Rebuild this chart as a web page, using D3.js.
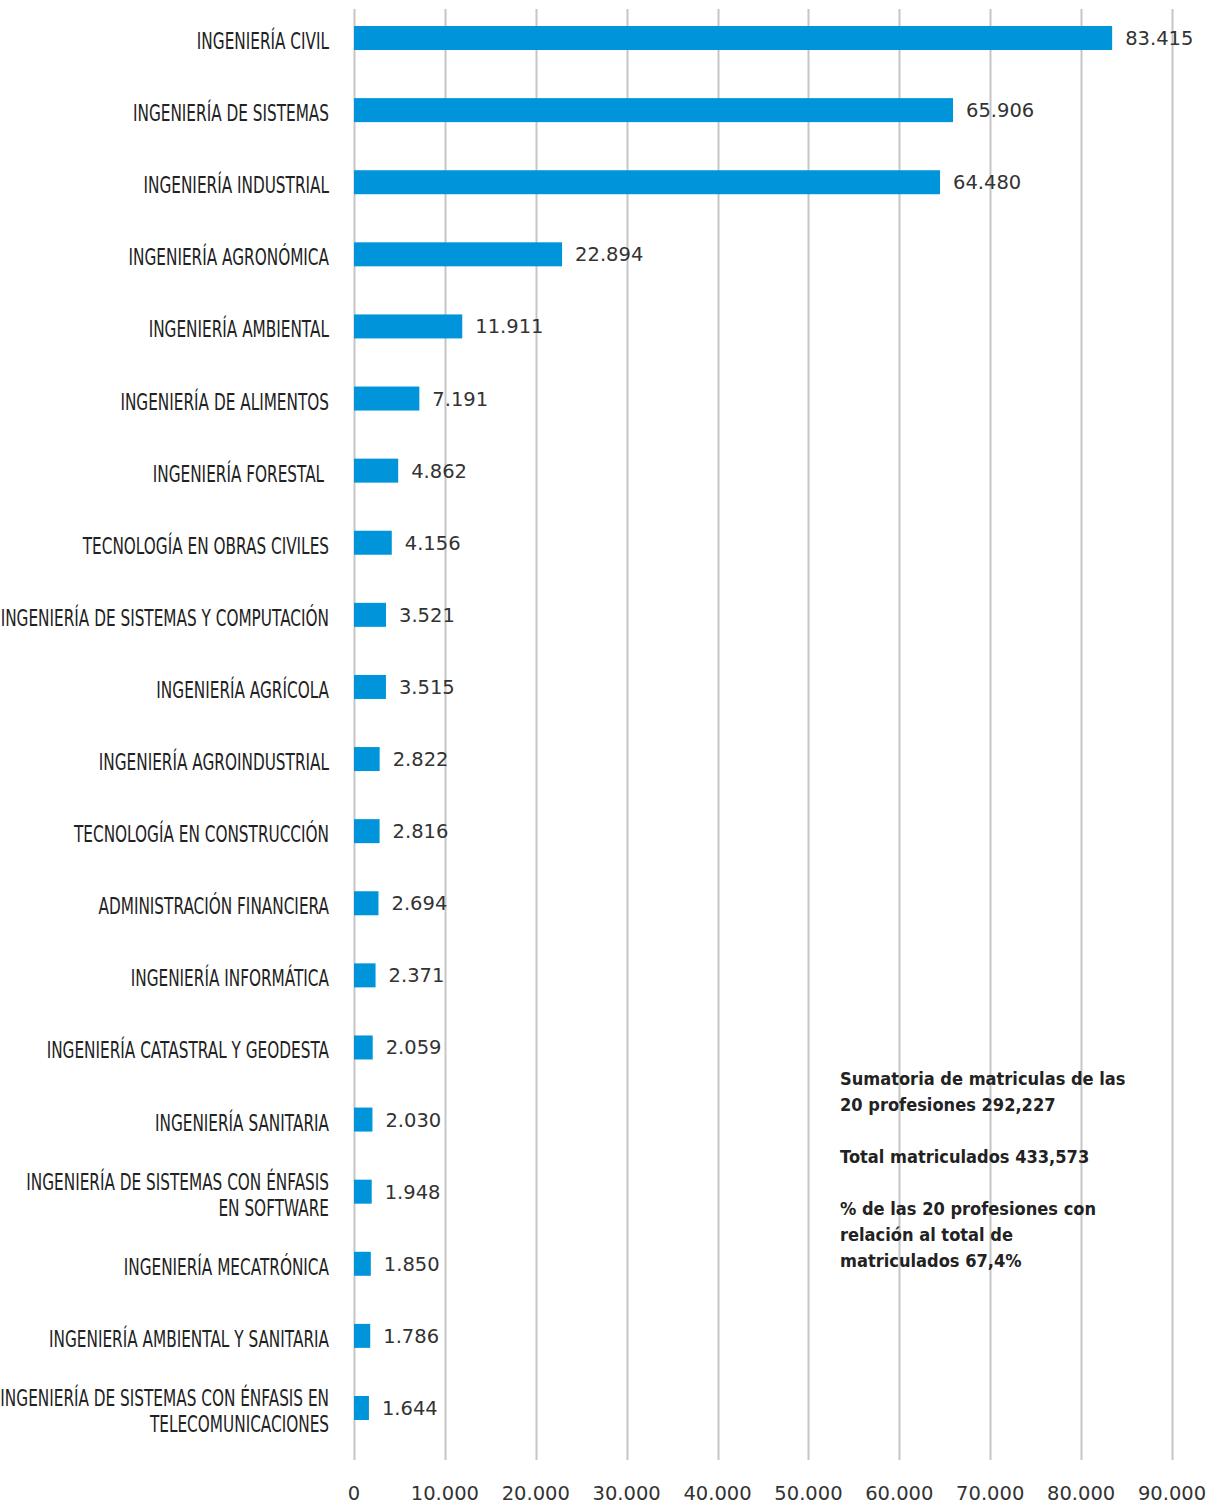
<!DOCTYPE html>
<html>
<head>
<meta charset="utf-8">
<script src="https://cdn.jsdelivr.net/npm/d3@7"></script>
<style>
  body { margin: 0; background: #fff; }
  svg text { white-space: pre; }
</style>
</head>
<body>
<div id="chart"></div>
<script>
// data
var carreras = [
  ["INGENIERÍA CIVIL"],
  ["INGENIERÍA DE SISTEMAS"],
  ["INGENIERÍA INDUSTRIAL"],
  ["INGENIERÍA AGRONÓMICA"],
  ["INGENIERÍA AMBIENTAL"],
  ["INGENIERÍA DE ALIMENTOS"],
  ["INGENIERÍA FORESTAL "],
  ["TECNOLOGÍA EN OBRAS CIVILES"],
  ["INGENIERÍA DE SISTEMAS Y COMPUTACIÓN"],
  ["INGENIERÍA AGRÍCOLA"],
  ["INGENIERÍA AGROINDUSTRIAL"],
  ["TECNOLOGÍA EN CONSTRUCCIÓN"],
  ["ADMINISTRACIÓN FINANCIERA"],
  ["INGENIERÍA INFORMÁTICA"],
  ["INGENIERÍA CATASTRAL Y GEODESTA"],
  ["INGENIERÍA SANITARIA"],
  ["INGENIERÍA DE SISTEMAS CON ÉNFASIS", "EN SOFTWARE"],
  ["INGENIERÍA MECATRÓNICA"],
  ["INGENIERÍA AMBIENTAL Y SANITARIA"],
  ["INGENIERÍA DE SISTEMAS CON ÉNFASIS EN", "TELECOMUNICACIONES"]
];
var matriculados = [83415, 65906, 64480, 22894, 11911, 7191, 4862, 4156, 3521, 3515,
                    2822, 2816, 2694, 2371, 2059, 2030, 1948, 1850, 1786, 1644];
var ticks = [0, 10000, 20000, 30000, 40000, 50000, 60000, 70000, 80000, 90000];
var nota = [
  "Sumatoria de matriculas de las",
  "20 profesiones 292,227",
  "",
  "Total matriculados 433,573",
  "",
  "% de las 20 profesiones con",
  "relación al total de",
  "matriculados 67,4%"
];

var W = 1223, H = 1505;
var x0 = 354, x1 = 1172;

var svg = d3.select("#chart").append("svg")
    .attr("width", W).attr("height", H);

var fmt = d3.formatLocale({ decimal: ",", thousands: ".", grouping: [3] }).format(",d");

var x = d3.scaleLinear().domain([0, 90000]).range([x0, x1]);
var y = d3.scaleBand()
    .domain(d3.range(carreras.length))
    .range([2, 1444])
    .paddingInner(0.667)
    .paddingOuter(0.333);

// gridlines
svg.append("g").selectAll("line")
    .data(ticks)
    .join("line")
    .attr("x1", function (d) { return Math.round(x(d)) + 0.5; })
    .attr("x2", function (d) { return Math.round(x(d)) + 0.5; })
    .attr("y1", 9)
    .attr("y2", 1460)
    .attr("stroke", "#c6c6c6")
    .attr("stroke-width", 2);

// x tick labels
svg.append("g").selectAll("text")
    .data(ticks)
    .join("text")
    .attr("x", function (d) { return x(d); })
    .attr("y", 1500)
    .attr("text-anchor", "middle")
    .style("font-family", "'DejaVu Sans', Verdana, sans-serif")
    .style("font-size", "19.5px")
    .style("fill", "#333")
    .text(function (d) { return fmt(d); });

// bars
var bh = 24;
svg.append("g").selectAll("rect")
    .data(matriculados)
    .join("rect")
    .attr("x", x(0))
    .attr("y", function (d, i) { return y(i) + y.bandwidth() / 2 - bh / 2; })
    .attr("width", function (d) { return x(d) - x(0); })
    .attr("height", bh)
    .attr("fill", "#0095da");

// value labels
svg.append("g").selectAll("text")
    .data(matriculados)
    .join("text")
    .attr("x", function (d) { return x(d) + 13; })
    .attr("y", function (d, i) { return y(i) + y.bandwidth() / 2 + 7; })
    .style("font-family", "'DejaVu Sans', Verdana, sans-serif")
    .style("font-size", "19.5px")
    .style("fill", "#333")
    .text(function (d) { return fmt(d); });

// category labels (condensed look: squeeze horizontally)
var lab = svg.append("g").selectAll("text")
    .data(carreras)
    .join("text")
    .attr("text-anchor", "end")
    .style("font-family", "'Liberation Sans Narrow', 'DejaVu Sans', sans-serif")
    .style("font-size", "23px")
    .style("fill", "#222")
    .attr("transform", function (d, i) {
        var cy = y(i) + y.bandwidth() / 2;
        var by = d.length > 1 ? cy - 2 : cy + 11;
        return "translate(329," + by + ") scale(0.665,1)";
    });
lab.selectAll("tspan")
    .data(function (d) { return d; })
    .join("tspan")
    .attr("x", 0)
    .attr("dy", function (d, i) { return i === 0 ? 0 : 26; })
    .text(function (d) { return d; });

// note
svg.append("g")
    .attr("transform", "translate(840,0) scale(0.93,1)")
    .selectAll("text")
    .data(nota)
    .join("text")
    .attr("x", 0)
    .attr("y", function (d, i) { return 1085 + i * 26; })
    .style("font-family", "'DejaVu Sans', Verdana, sans-serif")
    .style("font-weight", "bold")
    .style("font-size", "17.5px")
    .style("fill", "#222")
    .text(function (d) { return d; });
</script>
</body>
</html>
